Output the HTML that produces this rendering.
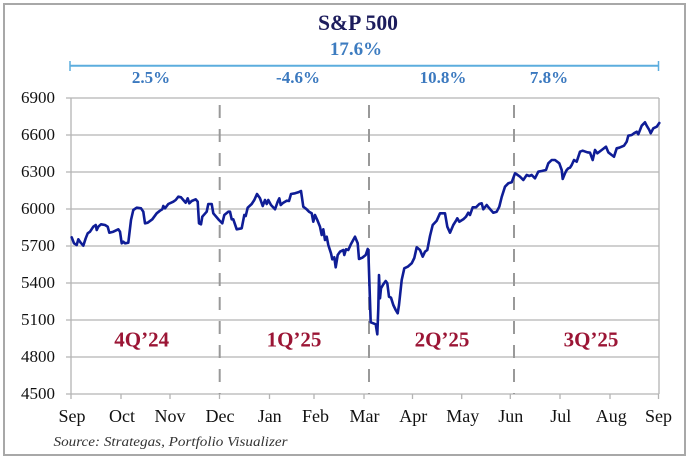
<!DOCTYPE html>
<html>
<head>
<meta charset="utf-8">
<style>
html,body{margin:0;padding:0;background:#fff;}
svg{display:block;}
</style>
</head>
<body>
<svg width="695" height="463" viewBox="0 0 695 463" xmlns="http://www.w3.org/2000/svg" font-family="'Liberation Serif', serif">
<rect x="0" y="0" width="695" height="463" fill="#fff"/>
<rect x="4" y="4" width="681" height="451" fill="#fff" stroke="#a8a8a8" stroke-width="2"/>

<!-- Title -->
<text x="358" y="30" text-anchor="middle" font-size="22" font-weight="bold" fill="#1c1c5c" textLength="80" lengthAdjust="spacingAndGlyphs">S&amp;P 500</text>
<text x="356" y="55" text-anchor="middle" font-size="19" font-weight="bold" fill="#3d7cc0">17.6%</text>

<!-- bracket -->
<line x1="70" y1="65.7" x2="658.5" y2="65.7" stroke="#5cadde" stroke-width="2"/>
<line x1="70" y1="61" x2="70" y2="71" stroke="#5cadde" stroke-width="1.5"/>
<line x1="658.5" y1="61" x2="658.5" y2="71" stroke="#5cadde" stroke-width="1.5"/>

<g font-size="17" font-weight="bold" fill="#3b79bf" text-anchor="middle">
<text x="151" y="83">2.5%</text>
<text x="298" y="83">-4.6%</text>
<text x="443" y="83">10.8%</text>
<text x="549" y="83">7.8%</text>
</g>

<!-- gridlines -->
<g stroke="#b4b4b4" stroke-width="1.3">
<line x1="66" y1="98" x2="659" y2="98"/>
<line x1="66" y1="135" x2="659" y2="135"/>
<line x1="66" y1="172" x2="659" y2="172"/>
<line x1="66" y1="209" x2="659" y2="209"/>
<line x1="66" y1="246" x2="659" y2="246"/>
<line x1="66" y1="283" x2="659" y2="283"/>
<line x1="66" y1="320" x2="659" y2="320"/>
<line x1="66" y1="357" x2="659" y2="357"/>
<line x1="66" y1="394" x2="659" y2="394"/>
<line x1="71" y1="98" x2="71" y2="399"/>
<line x1="659" y1="98" x2="659" y2="394"/>
<line x1="121" y1="394" x2="121" y2="399"/>
<line x1="170" y1="394" x2="170" y2="399"/>
<line x1="219.5" y1="394" x2="219.5" y2="399"/>
<line x1="269.5" y1="394" x2="269.5" y2="399"/>
<line x1="314" y1="394" x2="314" y2="399"/>
<line x1="364" y1="394" x2="364" y2="399"/>
<line x1="412.5" y1="394" x2="412.5" y2="399"/>
<line x1="461.7" y1="394" x2="461.7" y2="399"/>
<line x1="510.3" y1="394" x2="510.3" y2="399"/>
<line x1="560" y1="394" x2="560" y2="399"/>
<line x1="610" y1="394" x2="610" y2="399"/>
<line x1="658.5" y1="394" x2="658.5" y2="399"/>
</g>

<!-- dashed quarter dividers -->
<g stroke="#999" stroke-width="2" stroke-dasharray="13 11" stroke-dashoffset="17">
<line x1="219.7" y1="98" x2="219.7" y2="394"/>
<line x1="369" y1="98" x2="369" y2="394"/>
<line x1="514" y1="98" x2="514" y2="394"/>
</g>

<!-- y labels -->
<g font-size="17" fill="#111" text-anchor="end">
<text x="55" y="103">6900</text>
<text x="55" y="140">6600</text>
<text x="55" y="177">6300</text>
<text x="55" y="214">6000</text>
<text x="55" y="251">5700</text>
<text x="55" y="288">5400</text>
<text x="55" y="325">5100</text>
<text x="55" y="362">4800</text>
<text x="55" y="399">4500</text>
</g>

<!-- x labels -->
<g font-size="18" fill="#111" text-anchor="middle">
<text x="72" y="422">Sep</text>
<text x="122" y="422">Oct</text>
<text x="170" y="422">Nov</text>
<text x="220" y="422">Dec</text>
<text x="269.7" y="422">Jan</text>
<text x="315.5" y="422">Feb</text>
<text x="364.5" y="422">Mar</text>
<text x="413.3" y="422">Apr</text>
<text x="462.8" y="422">May</text>
<text x="510.8" y="422">Jun</text>
<text x="560.8" y="422">Jul</text>
<text x="611.3" y="422">Aug</text>
<text x="658.5" y="422">Sep</text>
</g>

<!-- quarter labels -->
<g font-size="21" font-weight="bold" fill="#9b1535" text-anchor="middle">
<text x="141.7" y="346.5">4Q’24</text>
<text x="294" y="346.5">1Q’25</text>
<text x="442" y="346.5">2Q’25</text>
<text x="591" y="346.5">3Q’25</text>
</g>

<!-- series -->
<polyline fill="none" stroke="#0f1d96" stroke-width="2.6" stroke-linejoin="round" stroke-linecap="round" points="
71.7,237.3 74,243.3 76.7,245 78.3,239.3 80.7,242.7 83.3,245.7 85.7,238.3 87.7,233.3 90,231.7 93.3,226.7 95.7,225 96.7,230 98.3,226.7 101,224.3 105,225 107.7,226.7 109.3,232.7 113.3,231.7 118.3,229.3 120,231.7 121.7,243.3 123.3,241.7 125,243.3 128.3,242.7 131,220 133.3,210 136.7,207.7 141,208.3 143.3,211.7 145,223.3 147.7,222.7 152.3,219.3 156.7,213.3 160,210.7 162.3,209.3 163.3,206 165,208.3 168.3,204 173.3,201.7 175.7,200 178.3,196.7 181,197.3 183.3,200 185.7,202.7 187.7,198.3 189.3,203.3 191.7,201 195.7,199.3 197.7,201.7 199,223.3 201,224.3 202.3,216.7 206.7,211.7 208.3,204 211.7,204 213.3,213.3
219,220 222.3,223.3 224.3,215 228.3,211.7 230,211.7 231.7,219.3 233.3,219.3 236.7,229.3 241.7,228.3 244.3,215 245.7,216 247.7,207.7 251.7,204 254.3,200 257,194 260,198.3 262.7,206 265,200 266.7,204 268.3,200 271,205 275,209.3 277.7,201.7 279.3,198.3 280.7,205 283.3,202.7 286.7,200.7 289,201 291,194 295,193.3 298.3,192.3 301,191 303.3,206.7 306.7,209.3 309,211.7 311.7,213.3 313.3,221.7 315,215 317.3,220 320,226.7 321.7,235 323.3,229.3 325,240 326.7,236.7 328.3,245 331,253.3 332.3,259.3 334.3,257.3 335.7,267.3 337.7,255 340,251.7 343.3,250 344.3,255 346,249.3 348.3,250 351,244 355,236.7
357.7,243.3 359,259 362.3,257.7 365.7,255 367.7,249 368.3,250 370.7,322.3 373.3,323.3 375.7,324.3 377.3,334.3 378.3,308.3 379,275 380,298.3 381,288.3 383.3,284.3 385.7,281 387.3,283.3 389,296.7 391,297.7 393.3,305 395.7,310 397.7,313.3 399,305 401.7,280 404.3,268.3 407.7,266.7 411.7,263.3 414.3,258 416.7,247.3 420,250 422.7,256.7 425,251.7 427.3,250 430,236 432.7,225 436.7,220.7 440,213.3 445,213.3 447.3,226.7 450,232.7 453.3,225 456,220.7 457.3,218.3 459.3,221.7 463.3,219.3 466,216.7 468.3,212.7 470,215 472.7,207.3 476,207.3 479.3,204 481.7,203.3 483.3,209.3 486.7,205 489.3,208.3 493.3,212.7 496.7,211.7 499.3,206.7
501.7,197 505,186.7 508.3,183.3 511.7,182.3 515,173.3 516.7,174.3 520,176.7 523.3,180 526.7,175 529.3,176 531.7,175 535,178.3 538.3,171.7 541.7,171 546,170 548.3,163.3 551.7,160 555,160 559.3,163.3 561.7,170 562.7,179 565,173.3 566.7,170 568.3,168.3 570,167.7 571.7,165 574,160 576.7,161.7 580,151.7 582.7,150.7 587.3,152.3 590,152.7 592.7,160 595,150 597.3,153.3 601.7,150 606,146.7 608.3,152.3 611.7,155 614,156.7 616.7,148.3 619.3,147.7 624,145.7 626.7,141.7 628.3,135.7 631.7,135 634,133.3 636.7,131.7 638.3,134.3 641.7,125.7 645,122.3 646.7,125.7 649.3,130 650.7,133.3 653.3,128.3 656.7,126.7 659.3,123"/>

<!-- source -->
<text x="53.5" y="446" font-size="14" font-style="italic" fill="#333" textLength="234" lengthAdjust="spacingAndGlyphs">Source: Strategas, Portfolio Visualizer</text>
</svg>
</body>
</html>
